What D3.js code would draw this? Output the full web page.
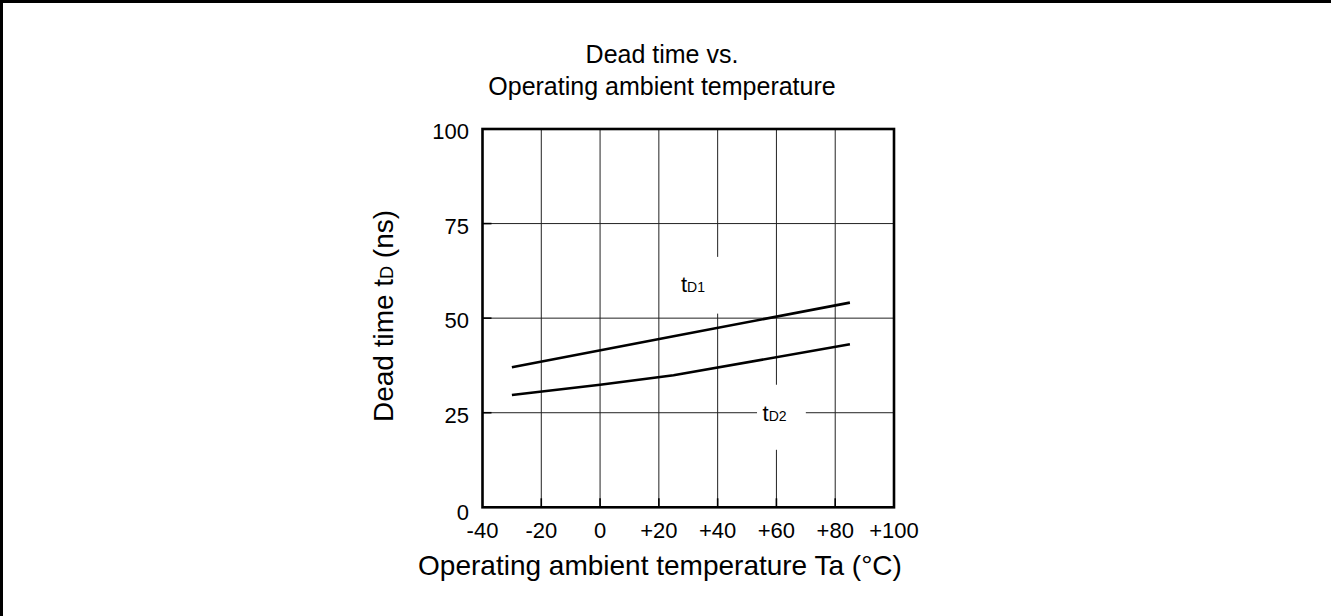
<!DOCTYPE html>
<html><head><meta charset="utf-8">
<script src="https://cdn.jsdelivr.net/npm/d3@7"></script>
<style>html,body{margin:0;padding:0;background:#fff;}svg{display:block;}text{font-family:"Liberation Sans",Arial,Helvetica,sans-serif;fill:#000;}</style>
</head><body>
<script>
const titleLines = ["Dead time vs.", "Operating ambient temperature"];
const xTicks = [-40, -20, 0, 20, 40, 60, 80, 100];
const xTickLabels = ["-40", "-20", "0", "+20", "+40", "+60", "+80", "+100"];
const yTicks = [0, 25, 50, 75, 100];
const temp1 = [-30, 25, 85];
const tD1 = [37.0, 45.2, 54.1];
const temp2 = [-30, 0, 25, 85];
const tD2 = [29.7, 32.4, 34.9, 43.1];
const seriesLabels = [{main: "t", sub: "D1", x: 27.5, y: 56.9}, {main: "t", sub: "D2", x: 55.3, y: 22.9}];

const W = 1331, H = 616;
const svg = d3.select("body").append("svg").attr("width", W).attr("height", H);
svg.append("rect").attr("width", W).attr("height", H).attr("fill", "#fff");
// outer frame (top & left visible)
svg.append("line").attr("x1", 0).attr("x2", W).attr("y1", 1.5).attr("y2", 1.5).attr("stroke", "#000").attr("stroke-width", 3);
svg.append("line").attr("x1", 1.5).attr("x2", 1.5).attr("y1", 0).attr("y2", H).attr("stroke", "#000").attr("stroke-width", 3);

const x = d3.scaleLinear().domain([-40, 100]).range([482.5, 894]);
const y = d3.scaleLinear().domain([0, 100]).range([507.3, 129]);

const g = svg.append("g");
// grid
g.selectAll(".vg").data(xTicks.slice(1, -1)).enter().append("line")
  .attr("x1", d => x(d)).attr("x2", d => x(d)).attr("y1", y(100)).attr("y2", y(0))
  .attr("stroke", "#222").attr("stroke-width", 1);
g.selectAll(".hg").data(yTicks.slice(1, -1)).enter().append("line")
  .attr("x1", x(-40)).attr("x2", x(100)).attr("y1", d => y(d)).attr("y2", d => y(d))
  .attr("stroke", "#222").attr("stroke-width", 1);

// label background boxes (in data units)
const boxes = [{x0: 21.7, x1: 41.4, y0: 51.2, y1: 66.2}, {x0: 53.4, x1: 70.0, y0: 15.2, y1: 32.4}];
g.selectAll(".bx").data(boxes).enter().append("rect")
  .attr("x", d => x(d.x0)).attr("y", d => y(d.y1))
  .attr("width", d => x(d.x1) - x(d.x0)).attr("height", d => y(d.y0) - y(d.y1))
  .attr("fill", "#fff");

// axes tick labels
g.selectAll(".xl").data(xTicks).enter().append("text")
  .attr("x", d => x(d)).attr("y", 538).attr("text-anchor", "middle")
  .attr("font-size", 22).text((d, i) => xTickLabels[i]);
g.selectAll(".yl").data(yTicks).enter().append("text")
  .attr("x", 469).attr("y", d => y(d) + (d === 0 ? 13 : 10)).attr("text-anchor", "end")
  .attr("font-size", 22).text(d => d);
// inner ticks
g.selectAll(".xt").data(xTicks.slice(1, -1)).enter().append("line")
  .attr("x1", d => x(d)).attr("x2", d => x(d)).attr("y1", y(0)).attr("y2", y(0) - 9)
  .attr("stroke", "#000").attr("stroke-width", 1.6);
g.selectAll(".yt").data(yTicks.slice(1, -1)).enter().append("line")
  .attr("x1", x(-40)).attr("x2", x(-40) + 9).attr("y1", d => y(d)).attr("y2", d => y(d))
  .attr("stroke", "#000").attr("stroke-width", 1.6);

// frame
g.append("rect").attr("x", x(-40)).attr("y", y(100)).attr("width", x(100) - x(-40)).attr("height", y(0) - y(100))
  .attr("fill", "none").attr("stroke", "#000").attr("stroke-width", 2.6);

// curves
const line = d3.line().x(d => x(d[0])).y(d => y(d[1]));
g.append("path").datum(temp1.map((t, i) => [t, tD1[i]])).attr("d", line)
  .attr("fill", "none").attr("stroke", "#000").attr("stroke-width", 2.6);
g.append("path").datum(temp2.map((t, i) => [t, tD2[i]])).attr("d", line)
  .attr("fill", "none").attr("stroke", "#000").attr("stroke-width", 2.6);

// series labels
seriesLabels.forEach(s => {
  const t = g.append("text").attr("x", x(s.x)).attr("y", y(s.y)).attr("font-size", 22);
  t.append("tspan").text(s.main);
  t.append("tspan").attr("font-size", 14).text(s.sub);
});

// title
svg.selectAll(".tt").data(titleLines).enter().append("text")
  .attr("x", 662).attr("y", (d, i) => 63 + i * 32).attr("text-anchor", "middle")
  .attr("font-size", 25).text(d => d);

// x axis title
svg.append("text").attr("x", 660).attr("y", 575).attr("text-anchor", "middle")
  .attr("font-size", 28).text("Operating ambient temperature Ta (\u00B0C)");

// y axis title
const yt = svg.append("text").attr("transform", "translate(393,316) rotate(-90)")
  .attr("text-anchor", "middle").attr("font-size", 28);
yt.append("tspan").text("Dead time t");
yt.append("tspan").attr("font-size", 18).text("D");
yt.append("tspan").text(" (ns)");
</script>
</body></html>
